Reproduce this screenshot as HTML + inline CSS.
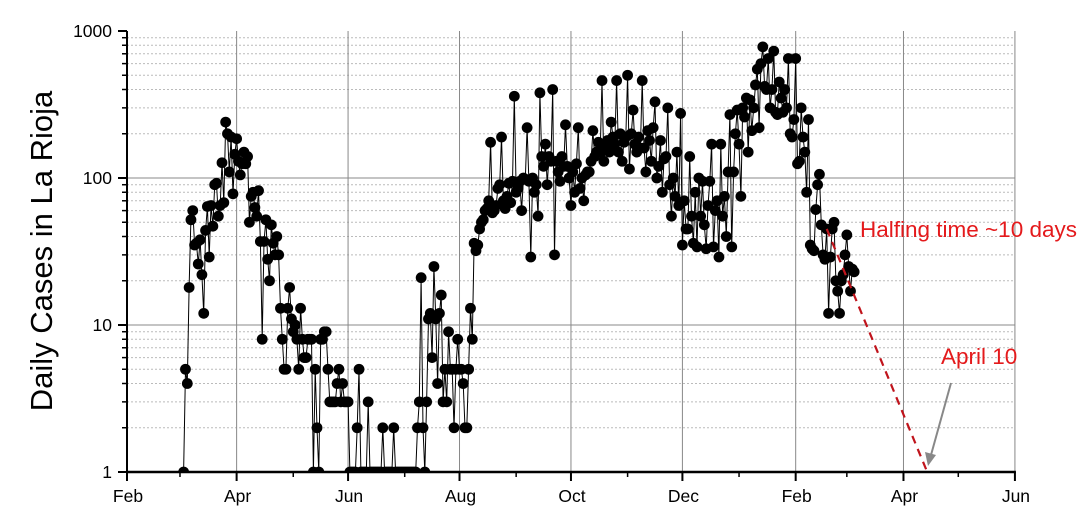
<!DOCTYPE html>
<html><head><meta charset="utf-8"><style>
html,body{margin:0;padding:0;background:#fff;}
svg{display:block;font-family:"Liberation Sans",Arial,sans-serif;}
</style></head><body>
<svg id="chart" width="1091" height="517" viewBox="0 0 1091 517">
<defs><clipPath id="plotclip"><rect x="110" y="0" width="981" height="472"/></clipPath></defs>
<g id="grid"></g>
<g id="series" clip-path="url(#plotclip)"></g>
<g id="axes"></g>
<text x="0" y="0" transform="translate(52,251) rotate(-90)" text-anchor="middle" font-size="31" fill="#000">Daily Cases in La Rioja</text>
<text x="860" y="237" font-size="22.5" fill="#e41a1c">Halfing time ~10 days</text>
<text x="941" y="364" font-size="22.5" fill="#e41a1c">April 10</text>
</svg>
<script>
// day index from Feb 1 2020 of first value
const startDay = 31;
const dailyCases = [
1,5,4,18,52,60,35,36,26,38,22,12,44,64,29,65,47,90,92,55,65,127,68,240,200,110,190,78,145,185,
130,105,125,150,125,140,50,75,80,63,55,82,37,8,37,52,28,20,48,36,30,40,30,13,
8,5,5,13,18,11,9,10,8,5,13,8,6,6,8,8,8,1,5,2,1,8,8,9,9,5,3,3,3,3,4,5,3,4,3,3,3,
1,1,1,1,2,5,1,1,1,1,3,1,1,1,1,1,1,1,2,1,1,1,1,1,2,1,1,1,1,1,1,1,1,1,1,1,1,
2,3,21,2,1,3,11,12,6,25,11,4,12,16,3,5,3,9,5,5,2,5,8,5,
5,4,2,2,5,13,8,36,32,35,45,50,52,60,62,70,175,
58,60,65,85,90,190,70,62,75,92,68,95,360,80,85,95,60,100,98,220,95,
29,100,80,90,55,380,140,120,170,90,140,130,400,30,130,110,95,140,120,230,120,100,
65,110,80,125,220,85,100,70,105,110,110,130,210,140,150,175,150,460,130,160,
180,150,240,190,170,460,150,200,130,175,190,500,115,200,290,170,150,190,160,460,
160,110,210,180,130,220,330,100,120,180,80,135,140,300,90,55,100,75,150,65,275,
35,70,45,45,140,55,36,80,34,100,55,95,48,33,65,95,170,34,60,70,29,
170,55,75,40,110,270,34,110,200,290,170,75,300,260,350,150,340,210,300,430,550,
220,600,780,420,400,650,300,400,730,280,270,450,350,280,400,300,650,200,190,250,650,
125,130,300,190,150,80,250,35,33,32,61,90,106,48,30,28,45,
12,29,45,50,20,17,12,20,22,30,41,25,17,24,23
];
const xTickLabels = ["Feb","Apr","Jun","Aug","Oct","Dec","Feb","Apr","Jun"];
const xTickDays = [0,60,121,182,243,304,366,425,486];
const xMinorDays = [29,91,152,213,274,335,394,455];
const yTickValues = [1,10,100,1000];
const projectionDays = [383,438];
const projectionValues = [45,1];

const NS="http://www.w3.org/2000/svg";
const X0=127, PXD=1.827, YB=472, DEC=147;
const xs=d=>X0+d*PXD;
const ys=v=>YB-Math.log10(v)*DEC;
function mk(tag,attrs,parent){const e=document.createElementNS(NS,tag);for(const k in attrs)e.setAttribute(k,attrs[k]);parent.appendChild(e);return e;}
const grid=document.getElementById('grid'),axes=document.getElementById('axes'),series=document.getElementById('series'),svg=document.getElementById('chart');
const XR=xs(486);
for(let dec=1;dec<=100;dec*=10){for(let m=2;m<=9;m++){const y=ys(dec*m);
 const l=mk('line',{x1:X0,x2:XR,y1:y,y2:y,stroke:'#bbb','stroke-width':1,'stroke-dasharray':'2,2'},grid);
 
 
 const t=mk('line',{x1:X0-5,x2:X0,y1:y,y2:y,stroke:'#000','stroke-width':1.5},axes);
 
 
}}
yTickValues.forEach(v=>{const y=ys(v);
 if(v>1&&v<1000){const l=mk('line',{x1:X0,x2:XR,y1:y,y2:y,stroke:'#888','stroke-width':1},grid);
 
 }
 const t=mk('line',{x1:X0-9,x2:X0,y1:y,y2:y,stroke:'#000','stroke-width':2},axes);
 
 
 const tx=mk('text',{x:X0-15,y:y+6,'text-anchor':'end','font-size':17.5,fill:'#000'},axes);tx.textContent=String(v);
 
 
});
xTickDays.forEach((d,i)=>{const x=xs(d);
 if(i>0){const l=mk('line',{x1:x,x2:x,y1:ys(1000),y2:YB,stroke:'#888','stroke-width':1},grid);
 
 }
 const t=mk('line',{x1:x,x2:x,y1:YB,y2:YB+9,stroke:'#000','stroke-width':2},axes);
 
 
 const tx=mk('text',{x:x+1,y:502,'text-anchor':'middle','font-size':17.5,fill:'#000'},axes);tx.textContent=xTickLabels[i];
 
 
});
xMinorDays.forEach(d=>{const x=xs(d);
 const t=mk('line',{x1:x,x2:x,y1:YB,y2:YB+5,stroke:'#000','stroke-width':1.5},axes);
 
 
});
const ya=mk('line',{x1:X0,x2:X0,y1:ys(1000),y2:YB+1,stroke:'#000','stroke-width':2},axes);


const xa=mk('line',{x1:X0-1,x2:XR+1,y1:YB,y2:YB,stroke:'#000','stroke-width':2.5},axes);


let pts=dailyCases.map((v,i)=>xs(startDay+i).toFixed(1)+','+ys(v).toFixed(1)).join(' ');
const pl=mk('polyline',{points:pts,fill:'none',stroke:'#000','stroke-width':1},series);


dailyCases.forEach((v,i)=>{const c=mk('circle',{cx:xs(startDay+i),cy:ys(v),r:5.4,fill:'#000'},series);
 
 
});
const pr=mk('line',{x1:xs(projectionDays[0]),y1:ys(projectionValues[0]),x2:xs(projectionDays[1]),y2:ys(projectionValues[1]),stroke:'#c0141c','stroke-width':2.2,'stroke-dasharray':'8,6'},svg);


const ar=mk('line',{x1:951,y1:383,x2:931,y2:455,stroke:'#888','stroke-width':2},svg);


const ah=mk('polygon',{points:'928,466 925,452 936,455',fill:'#888'},svg);


</script>
</body></html>
